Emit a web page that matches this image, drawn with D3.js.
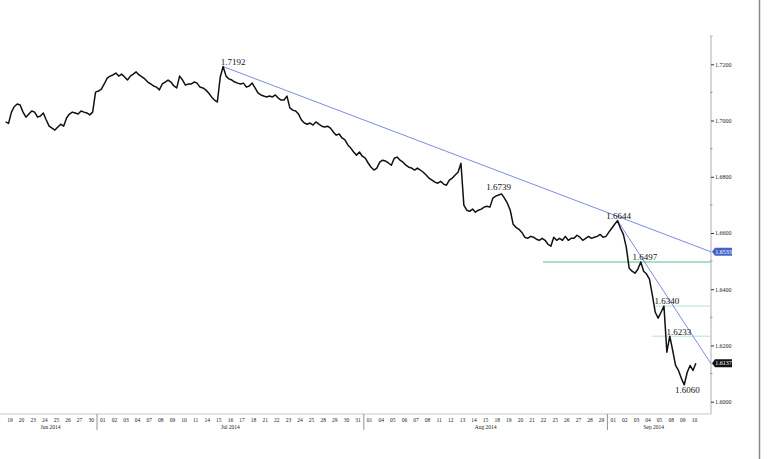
<!DOCTYPE html>
<html><head><meta charset="utf-8">
<script src="https://cdn.jsdelivr.net/npm/d3@7/dist/d3.min.js"></script>
<style>body{margin:0;background:#fff;}svg{display:block;}</style>
</head><body>
<svg id="chart" width="775" height="459"></svg>
<script>
// ---- DATA ----
const dayLabels = ["19","20","23","24","25","26","27","30",
 "01","02","03","04","07","08","09","10","11","14","15","16","17","18","21","22","23","24","25","28","29","30","31",
 "01","04","05","06","07","08","11","12","13","14","15","18","19","20","21","22","25","26","27","28","29",
 "01","02","03","04","05","08","09","10"];
const monthLabels = ["Jun 2014","Jul 2014","Aug 2014","Sep 2014"];
const monthStarts = [0, 8, 31, 52];   // index of first trading day of each month
const monthEnds   = [8, 31, 52, 60];
// 4 intraday closes per trading day (last day partial)
const prices = [
 1.6995,1.6990,1.7030,1.7050, 1.7059,1.7055,1.7030,1.7012, 1.7023,1.7034,1.7030,1.7012, 1.7016,1.7027,1.7002,1.6980,
 1.6973,1.6966,1.6977,1.6987, 1.6980,1.7009,1.7023,1.7030, 1.7027,1.7023,1.7034,1.7030, 1.7027,1.7020,1.7030,1.7101,
 1.7105,1.7112,1.7130,1.7151, 1.7158,1.7162,1.7169,1.7158, 1.7165,1.7155,1.7144,1.7158, 1.7165,1.7173,1.7162,1.7155,
 1.7148,1.7137,1.7130,1.7123, 1.7119,1.7109,1.7130,1.7137, 1.7144,1.7137,1.7123,1.7116, 1.7158,1.7144,1.7126,1.7130,
 1.7130,1.7137,1.7133,1.7119, 1.7116,1.7109,1.7098,1.7084, 1.7073,1.7066,1.7155,1.7192, 1.7158,1.7148,1.7144,1.7137,
 1.7133,1.7130,1.7133,1.7119, 1.7123,1.7133,1.7116,1.7098, 1.7091,1.7087,1.7084,1.7087, 1.7084,1.7091,1.7080,1.7073,
 1.7073,1.7087,1.7045,1.7037, 1.7034,1.7023,1.7002,1.6991, 1.6987,1.6991,1.6984,1.6995, 1.6987,1.6980,1.6977,1.6980,
 1.6973,1.6959,1.6948,1.6952, 1.6938,1.6931,1.6913,1.6902, 1.6888,1.6877,1.6888,1.6873,
 1.6866,1.6849,1.6834,1.6824, 1.6831,1.6852,1.6859,1.6856, 1.6849,1.6841,1.6866,1.6870, 1.6859,1.6852,1.6841,1.6834,
 1.6831,1.6824,1.6831,1.6824, 1.6816,1.6806,1.6795,1.6788, 1.6781,1.6777,1.6784,1.6774, 1.6770,1.6788,1.6795,1.6806,
 1.6816,1.6848,1.6699,1.6681, 1.6677,1.6685,1.6674,1.6681, 1.6685,1.6692,1.6695,1.6692, 1.6724,1.6731,1.6735,1.6739,
 1.6724,1.6706,1.6681,1.6631, 1.6620,1.6613,1.6602,1.6585, 1.6581,1.6588,1.6585,1.6578, 1.6574,1.6581,1.6574,1.6560,
 1.6553,1.6585,1.6574,1.6581, 1.6574,1.6588,1.6574,1.6581, 1.6581,1.6592,1.6585,1.6574, 1.6581,1.6588,1.6581,1.6585,
 1.6588,1.6595,1.6585,1.6588,
 1.6603,1.6617,1.6631,1.6644, 1.6617,1.6595,1.6550,1.6475, 1.6464,1.6457,1.6471,1.6497, 1.6464,1.6454,1.6436,1.6379,
 1.6318,1.6297,1.6318,1.6340, 1.6176,1.6233,1.6183,1.6129, 1.6111,1.6083,1.6060,1.6104, 1.6129,1.6111,1.6137
];
const yTicks = [1.60, 1.62, 1.64, 1.66, 1.68, 1.70, 1.72];
const yMinorTicks = [1.61, 1.63, 1.65, 1.67, 1.69, 1.71, 1.73];
const annotValues = [1.7192, 1.6739, 1.6644, 1.6497, 1.6340, 1.6233, 1.6060];
const annotIndex  = [75, 171, 211, 219, 227, 229, 234]; // index in prices
const trendMain   = [1.7192, 1.6533];   // from the 1.7192 peak to the right axis
const trendSteep  = [1.6644, 1.6135];   // from the 1.6644 peak to the right axis
const supportLevels = [1.6497, 1.6340, 1.6233];
const tagValues = [1.6533, 1.6137];

// ---- LAYOUT ----
const svg = d3.select("#chart");
const PER_DAY = 4;
const axisX = 711, plotBottom = 414, axisTop = 37;
const x = d3.scaleLinear().domain([0, 60.93]).range([4.2, axisX]);
const y = d3.scaleLinear().domain([1.60, 1.72]).range([401.7, 64.3]);
const tOf = i => Math.floor(i / PER_DAY) + ((i % PER_DAY) + 0.5) / PER_DAY;
const serif = "'Liberation Serif','DejaVu Serif',serif";

// frame
svg.append("line").attr("x1",0).attr("x2",axisX).attr("y1",plotBottom).attr("y2",plotBottom)
  .attr("stroke","#c8c8c8").attr("stroke-width",1.2);
svg.append("line").attr("x1",axisX).attr("x2",axisX).attr("y1",axisTop).attr("y2",plotBottom)
  .attr("stroke","#bdbdbd").attr("stroke-width",1.2);
svg.append("line").attr("x1",759.5).attr("x2",759.5).attr("y1",0).attr("y2",459)
  .attr("stroke","#8a8a8a").attr("stroke-width",1.5);

// y axis
const yAxis = d3.axisRight(y).tickValues(yTicks).tickSize(3).tickPadding(1).tickFormat(d3.format(".4f"));
const gy = svg.append("g").attr("transform",`translate(${axisX},0)`).call(yAxis);
gy.select(".domain").remove();
gy.selectAll("line").attr("stroke","#333");
gy.selectAll("text").attr("font-family",serif).attr("font-size",6).attr("fill","#222");
svg.append("g").selectAll("line").data(yMinorTicks).join("line")
  .attr("x1",axisX-1).attr("x2",axisX+1.5).attr("y1",d=>y(d)).attr("y2",d=>y(d))
  .attr("stroke","#888").attr("stroke-width",0.8);

// x axis labels
svg.append("g").selectAll("text").data(dayLabels).join("text")
  .attr("x",(d,i)=>x(i+0.5)).attr("y",422).attr("text-anchor","middle")
  .attr("font-family",serif).attr("font-size",5.5).attr("fill","#222").text(d=>d);
svg.append("g").selectAll("text").data(monthLabels).join("text")
  .attr("x",(d,i)=>x((monthStarts[i]+monthEnds[i])/2)).attr("y",428.5).attr("text-anchor","middle")
  .attr("font-family",serif).attr("font-size",5.5).attr("fill","#222").text(d=>d);
svg.append("g").selectAll("line").data(monthStarts.slice(1)).join("line")
  .attr("x1",d=>x(d)).attr("x2",d=>x(d)).attr("y1",plotBottom).attr("y2",430)
  .attr("stroke","#777").attr("stroke-width",0.8);

// support lines
const supportStart = [46.45, 56.1, 55.85];
svg.append("g").selectAll("line").data(supportLevels).join("line")
  .attr("x1",(d,i)=>x(supportStart[i])).attr("x2",axisX)
  .attr("y1",d=>y(d)).attr("y2",d=>y(d))
  .attr("stroke",(d,i)=> i===0 ? "#8fd4ad" : "#b5e3c8")
  .attr("stroke-width",(d,i)=> i===0 ? 1.6 : 1);

// trend lines
const tEnd = x.domain()[1];
svg.append("line").attr("x1",x(tOf(annotIndex[0]))).attr("y1",y(trendMain[0]))
  .attr("x2",x(tEnd)).attr("y2",y(trendMain[1])).attr("stroke","#5a6fd8").attr("stroke-width",0.8);
svg.append("line").attr("x1",x(tOf(annotIndex[2]))).attr("y1",y(trendSteep[0]))
  .attr("x2",x(tEnd)).attr("y2",y(trendSteep[1])).attr("stroke","#5a6fd8").attr("stroke-width",0.8);

// price line
const line = d3.line().x((d,i)=>x(tOf(i))).y(d=>y(d));
svg.append("path").datum(prices).attr("d",line).attr("fill","none")
  .attr("stroke","#111").attr("stroke-width",1.5).attr("stroke-linejoin","round");

// annotations
const annotOffsets = [[10,-2],[-3,-4],[1,-2],[4,-2],[3,-2],[9,-1],[3,2]];
svg.append("g").selectAll("text").data(annotValues).join("text")
  .attr("x",(d,i)=>x(tOf(annotIndex[i]))+annotOffsets[i][0])
  .attr("y",(d,i)=>y(d)+annotOffsets[i][1]+(annotOffsets[i][1]>0?6:0))
  .attr("text-anchor","middle").attr("font-family",serif).attr("font-size",9).attr("fill","#111")
  .text(d=>d.toFixed(4));

// value tags on the axis
const tagColors = ["#4563c6","#111"];
const tags = svg.append("g").selectAll("g").data(tagValues).join("g")
  .attr("transform",d=>`translate(${axisX+1},${y(d)})`);
tags.append("path").attr("d","M0,0 L3,-4 L20,-4 L20,4 L3,4 Z").attr("fill",(d,i)=>tagColors[i]);
tags.append("text").attr("x",11.5).attr("y",2).attr("text-anchor","middle")
  .attr("font-family",serif).attr("font-size",6).attr("fill","#fff").text(d=>d.toFixed(4));
</script>
</body></html>
